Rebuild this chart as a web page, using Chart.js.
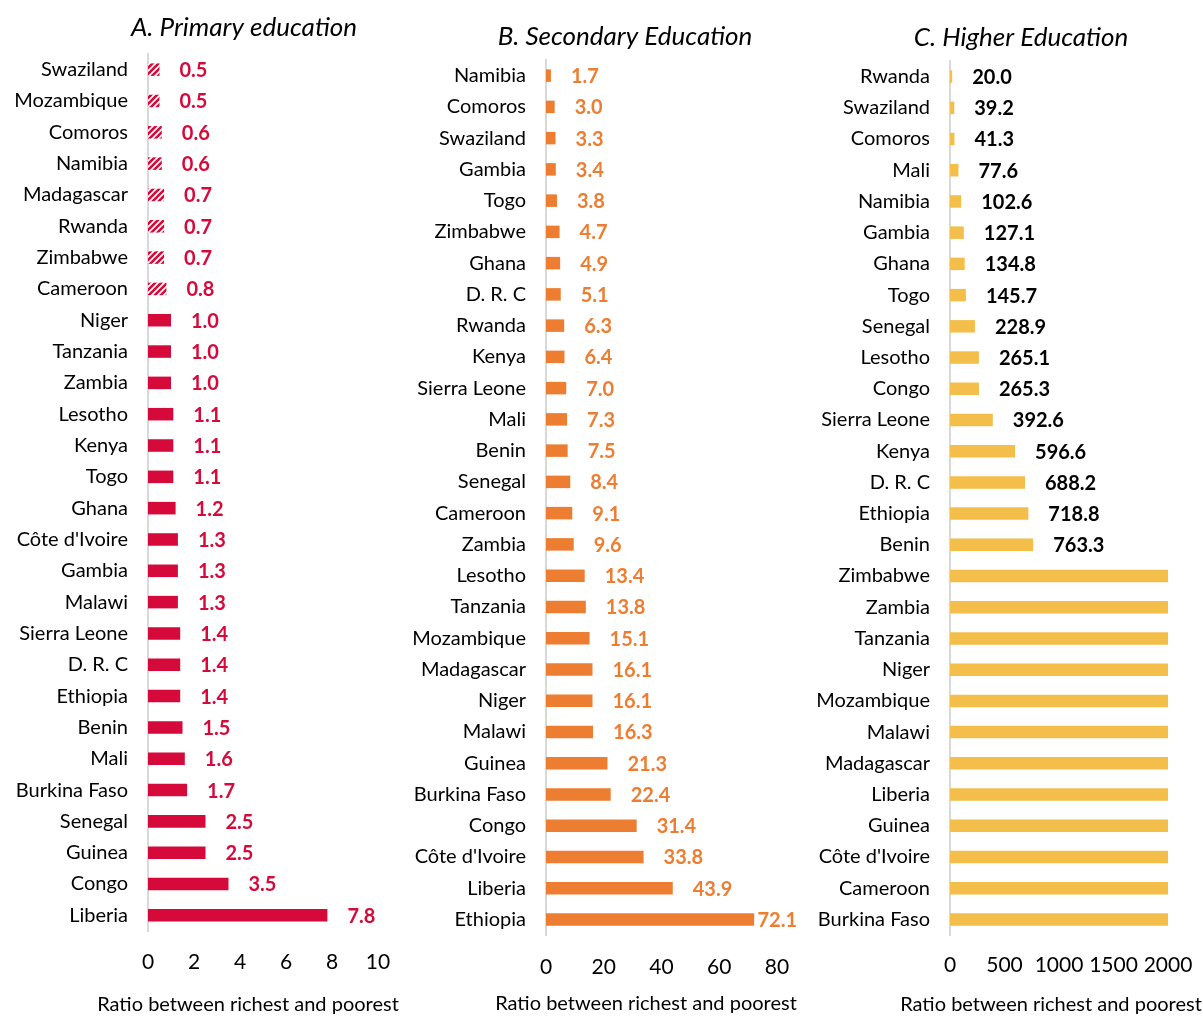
<!DOCTYPE html>
<html>
<head>
<meta charset="utf-8">
<script src="https://cdn.jsdelivr.net/npm/chart.js@4/dist/chart.umd.min.js"></script>
<style>
  html, body { margin: 0; padding: 0; background: #fff; }
  .panel { position: absolute; top: 0; height: 1016px; }
</style>
</head>
<body>
<div class="panel" style="left:0;width:400px"><canvas id="chartA"></canvas></div>
<div class="panel" style="left:400px;width:400px"><canvas id="chartB"></canvas></div>
<div class="panel" style="left:800px;width:403px"><canvas id="chartC"></canvas></div>
<script>
// A. Primary education
const primaryCountries = ['Swaziland', 'Mozambique', 'Comoros', 'Namibia', 'Madagascar', 'Rwanda', 'Zimbabwe',
    'Cameroon', 'Niger', 'Tanzania', 'Zambia', 'Lesotho', 'Kenya', 'Togo', 'Ghana', "Côte d'Ivoire", 'Gambia',
    'Malawi', 'Sierra Leone', 'D. R. C', 'Ethiopia', 'Benin', 'Mali', 'Burkina Faso', 'Senegal', 'Guinea', 'Congo', 'Liberia'];
const primaryValues = [0.5, 0.5, 0.6, 0.6, 0.7, 0.7, 0.7, 0.8, 1.0, 1.0, 1.0, 1.1, 1.1, 1.1, 1.2, 1.3, 1.3,
    1.3, 1.4, 1.4, 1.4, 1.5, 1.6, 1.7, 2.5, 2.5, 3.5, 7.8];

// B. Secondary education
const secondaryCountries = ['Namibia', 'Comoros', 'Swaziland', 'Gambia', 'Togo', 'Zimbabwe', 'Ghana', 'D. R. C',
    'Rwanda', 'Kenya', 'Sierra Leone', 'Mali', 'Benin', 'Senegal', 'Cameroon', 'Zambia', 'Lesotho', 'Tanzania',
    'Mozambique', 'Madagascar', 'Niger', 'Malawi', 'Guinea', 'Burkina Faso', 'Congo', "Côte d'Ivoire", 'Liberia', 'Ethiopia'];
const secondaryValues = [1.7, 3.0, 3.3, 3.4, 3.8, 4.7, 4.9, 5.1, 6.3, 6.4, 7.0, 7.3, 7.5, 8.4, 9.1, 9.6, 13.4, 13.8,
    15.1, 16.1, 16.1, 16.3, 21.3, 22.4, 31.4, 33.8, 43.9, 72.1];

// C. Higher education (no poorest enrolled -> bar drawn to the axis max, no label)
const higherCountries = ['Rwanda', 'Swaziland', 'Comoros', 'Mali', 'Namibia', 'Gambia', 'Ghana', 'Togo', 'Senegal',
    'Lesotho', 'Congo', 'Sierra Leone', 'Kenya', 'D. R. C', 'Ethiopia', 'Benin', 'Zimbabwe', 'Zambia', 'Tanzania',
    'Niger', 'Mozambique', 'Malawi', 'Madagascar', 'Liberia', 'Guinea', "Côte d'Ivoire", 'Cameroon', 'Burkina Faso'];
const higherValues = [20.0, 39.2, 41.3, 77.6, 102.6, 127.1, 134.8, 145.7, 228.9, 265.1, 265.3, 392.6, 596.6, 688.2,
    718.8, 763.3, 2000, 2000, 2000, 2000, 2000, 2000, 2000, 2000, 2000, 2000, 2000, 2000];
const HIGHER_CAP = 2000;

const FONT = 'Lato';
const axisTitle = 'Ratio between richest and poorest';

function makeHatch(color) {
    const c = document.createElement('canvas');
    c.width = 6; c.height = 6;
    const g = c.getContext('2d');
    g.fillStyle = '#fff';
    g.fillRect(0, 0, 6, 6);
    g.strokeStyle = color;
    g.lineWidth = 2.6;
    g.beginPath();
    g.moveTo(0, 6); g.lineTo(6, 0);
    g.moveTo(-3, 3); g.lineTo(3, -3);
    g.moveTo(3, 9); g.lineTo(9, 3);
    g.stroke();
    return g.createPattern(c, 'repeat');
}

// value labels at the end of each bar
const barLabels = {
    id: 'barLabels',
    afterDatasetsDraw(chart, args, opts) {
        const ctx = chart.ctx;
        const data = chart.data.datasets[0].data;
        ctx.save();
        ctx.font = 'bold 20px ' + FONT;
        ctx.fillStyle = opts.color;
        ctx.textBaseline = 'middle';
        ctx.textAlign = 'left';
        chart.getDatasetMeta(0).data.forEach((bar, i) => {
            const v = data[i];
            if (opts.cap && v >= opts.cap) return;
            const txt = v.toFixed(1);
            const w = ctx.measureText(txt).width;
            const x = Math.min(bar.x + 20, chart.width - w - 3);
            ctx.fillText(txt, x, bar.y + 1);
        });
        ctx.restore();
    }
};

// panel title + axis title
const panelText = {
    id: 'panelText',
    afterDraw(chart, args, opts) {
        const ctx = chart.ctx;
        ctx.save();
        ctx.fillStyle = '#000';
        ctx.textAlign = 'center';
        ctx.textBaseline = 'middle';
        ctx.font = 'italic 26px ' + FONT;
        ctx.fillText(opts.title, opts.titleX, opts.titleY);
        ctx.font = '20px ' + FONT;
        ctx.fillText(axisTitle, opts.axisX, opts.axisY);
        ctx.restore();
    }
};

function noPad(s) {
    s.paddingLeft = 0; s.paddingRight = 0;
    s.paddingTop = 0; s.paddingBottom = 0;
}

function buildChart(id, labels, values, cfg) {
    return new Chart(document.getElementById(id), {
        type: 'bar',
        data: {
            labels: labels,
            datasets: [{
                data: values,
                backgroundColor: cfg.colors,
                borderWidth: 0,
                barPercentage: 0.4,
                categoryPercentage: 1.0
            }]
        },
        options: {
            indexAxis: 'y',
            responsive: true,
            maintainAspectRatio: false,
            animation: false,
            layout: { padding: { top: cfg.top, right: cfg.right, bottom: 0, left: 0 } },
            plugins: {
                legend: { display: false },
                tooltip: { enabled: false },
                barLabels: { color: cfg.labelColor, cap: cfg.cap },
                panelText: cfg.text
            },
            scales: {
                x: {
                    min: 0, max: cfg.max,
                    ticks: {
                        stepSize: cfg.step, color: '#000', padding: cfg.tickPad,
                        autoSkip: false, maxRotation: 0, minRotation: 0,
                        callback: v => String(v),
                        font: { family: FONT, size: 21 }
                    },
                    grid: { display: false, drawTicks: false },
                    border: { display: false },
                    afterFit: s => { s.height = cfg.xHeight; noPad(s); }
                },
                y: {
                    ticks: { color: '#000', padding: 20, font: { family: FONT, size: 20 } },
                    grid: { display: false, drawTicks: false },
                    border: { display: true, color: '#d9d9d9', width: 2 },
                    afterFit: s => { s.width = cfg.yWidth; noPad(s); }
                }
            }
        },
        plugins: [barLabels, panelText]
    });
}

const red = '#D50A3A';
const hatch = makeHatch(red);
buildChart('chartA', primaryCountries, primaryValues, {
    colors: primaryValues.map(v => v < 1 ? hatch : red),
    labelColor: red, max: 10, step: 2,
    top: 54, right: 22, yWidth: 148, xHeight: 85, tickPad: 19,
    text: { title: 'A. Primary education', titleX: 244, titleY: 28, axisX: 248, axisY: 1005 }
});

buildChart('chartB', secondaryCountries, secondaryValues, {
    colors: '#ED7D31',
    labelColor: '#ED7D31', max: 80, step: 20,
    top: 60, right: 23, yWidth: 146, xHeight: 81, tickPad: 20,
    text: { title: 'B. Secondary Education', titleX: 225, titleY: 37, axisX: 246, axisY: 1004 }
});

buildChart('chartC', higherCountries, higherValues, {
    colors: '#F4BE4B',
    labelColor: '#000', max: 2000, step: 500, cap: HIGHER_CAP,
    top: 61, right: 35, yWidth: 150, xHeight: 81, tickPad: 18,
    text: { title: 'C. Higher Education', titleX: 221, titleY: 38, axisX: 251, axisY: 1005 }
});
</script>
</body>
</html>
